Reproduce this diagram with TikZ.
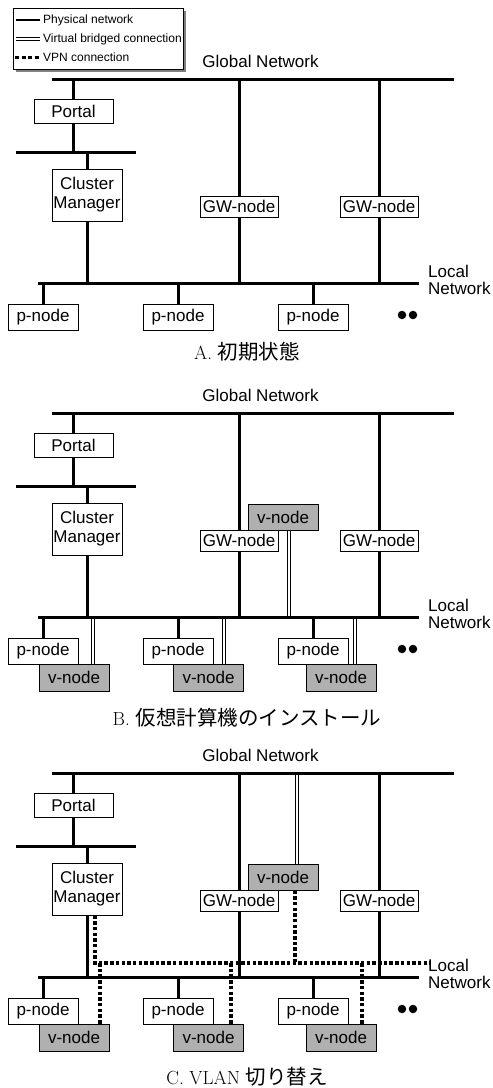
\documentclass[tikz,border=0pt]{standalone}
\usepackage{fontspec}
\newfontfamily\labfont{Liberation Sans}
\newfontfamily\jpfont{Noto Sans CJK JP}
\definecolor{vgray}{RGB}{176,176,176}
\definecolor{shadowgray}{RGB}{128,128,128}
\pgfdeclarelayer{bbg}
\pgfdeclarelayer{bg}
\pgfsetlayers{bbg,bg,main}
\newcommand\jp[1]{{\jpfont\fontsize{20.5}{22}\selectfont #1}}
\tikzset{
  net/.style={line width=3pt},
  lbl/.style={font=\labfont\fontsize{17}{17}\selectfont, inner sep=0pt},
  nbox/.style={draw, line width=0.8pt, fill=white, inner sep=0pt,
    font=\labfont\fontsize{17}{19}\selectfont, align=center},
  pbox/.style={nbox, minimum width=70pt, minimum height=26pt},
  vbox/.style={nbox, fill=vgray, minimum width=70pt, minimum height=27pt},
  bridge/.style={double, line width=0.9pt, double distance=2.4pt},
  vpn/.style={line width=3.2pt, dash pattern=on 3.5pt off 2.2pt},
  captext/.style={font=\fontsize{19}{22}\selectfont, inner sep=0pt},
  bigdot/.style={circle, fill=black, inner sep=0pt, minimum size=8.5pt},
  legtext/.style={font=\labfont\fontsize{12}{12}\selectfont, inner sep=0pt, anchor=west},
}
\newcommand\panelbase[2]{%
  \node[lbl] (gnet) at (260.5,61) {Global Network};
  \coordinate (gl) at (52,79);
  \coordinate (gr) at (454,79);
  \coordinate (bl) at (16,152);
  \coordinate (br) at (136,152);
  \coordinate (ll) at (38,283);
  \coordinate (lr) at (419,283);
  \node[nbox, minimum width=79pt, minimum height=24pt] (portal) at (73.5,111) {Portal};
  \node[nbox, minimum width=70pt, minimum height=52pt] (cm) at (87,195) {Cluster\\Manager};
  \node[nbox, minimum width=78pt, minimum height=21pt] (gw1) at (239,206.5) {GW-node};
  \node[nbox, minimum width=78pt, minimum height=21pt] (gw2) at (379,206.5) {GW-node};
  \node[pbox] (p1) at (43,317) {p-node};
  \node[pbox] (p2) at (178,317) {p-node};
  \node[pbox] (p3) at (313,317) {p-node};
  \node[lbl, anchor=north west, align=left] (lnet) at (428,264.5) {Local\\Network};
  \node[bigdot] (dA) at (402,315) {};
  \node[bigdot] (dB) at (413,315) {};
  \node[captext] (caption) at (247,#1) {#2};
  \begin{pgfonlayer}{bg}
    \draw[net] (gl) -- (gr);
    \draw[net] (bl) -- (br);
    \draw[net] (ll) -- (lr);
    \draw[net] (portal |- gl) -- (portal |- bl);
    \draw[net] (cm |- bl) -- (cm |- ll);
    \draw[net] (gw1 |- gl) -- (gw1 |- ll);
    \draw[net] (gw2 |- gl) -- (gw2 |- ll);
    \draw[net] (p1.north) -- (p1 |- ll);
    \draw[net] (p2.north) -- (p2 |- ll);
    \draw[net] (p3.north) -- (p3 |- ll);
  \end{pgfonlayer}
}
\newcommand\vnodes{%
  \node[vbox] (v1) at (74,343.5) {v-node};
  \node[vbox] (v2) at (208.5,343.5) {v-node};
  \node[vbox] (v3) at (341,343.5) {v-node};
  \node[vbox, minimum height=26pt] (vt) at (283,183) {v-node};
}
\begin{document}
\begin{tikzpicture}[x=1pt,y=-1pt]
\useasboundingbox (0,0) rectangle (493,1088);
% legend
\node[fill=shadowgray, minimum width=170pt, minimum height=61pt, inner sep=0pt, anchor=north west] (legshadow) at (16,11) {};
\node[draw, line width=0.8pt, fill=white, minimum width=170pt, minimum height=61pt, inner sep=0pt, anchor=north west] (legend) at (13,8) {};
\coordinate (la1) at (16,20); \coordinate (lb1) at (40,20);
\coordinate (la2) at (16,39); \coordinate (lb2) at (40,39);
\coordinate (la3) at (15,57); \coordinate (lb3) at (40,57);
\draw[line width=2.6pt] (la1) -- (lb1);
\draw[double, line width=0.9pt, double distance=2pt] (la2) -- (lb2);
\draw[line width=3pt, dash pattern=on 4pt off 2.5pt] (la3) -- (lb3);
\node[legtext] (lt1) at (43,20) {Physical network};
\node[legtext] (lt2) at (43,39) {Virtual bridged connection};
\node[legtext] (lt3) at (43,57) {VPN connection};

% Panel A
\begin{scope}[name prefix=a-]
  \panelbase{352}{A.\ \jp{初期状態}}
\end{scope}

% Panel B
\begin{scope}[shift={(0,334)}, name prefix=b-]
  \panelbase{384}{B.\ \jp{仮想計算機のインストール}}
  \vnodes
  \begin{pgfonlayer}{bbg}
    \draw[bridge] ([xshift=19pt]v1.north) -- ([xshift=19pt]v1.north |- ll);
    \draw[bridge] ([xshift=15.5pt]v2.north) -- ([xshift=15.5pt]v2.north |- ll);
    \draw[bridge] ([xshift=14pt]v3.north) -- ([xshift=14pt]v3.north |- ll);
    \draw[bridge] ([xshift=6pt]vt.south) -- ([xshift=6pt]vt.south |- ll);
  \end{pgfonlayer}
\end{scope}

% Panel C
\begin{scope}[shift={(0,694)}, name prefix=c-]
  \panelbase{383}{C.\ VLAN\ \jp{切り替え}}
  \vnodes
  \begin{pgfonlayer}{bbg}
    \draw[bridge] ([xshift=14pt]vt.north) -- ([xshift=14pt]vt.north |- gl);
  \end{pgfonlayer}
  \coordinate (hl) at (95,269);
  \coordinate (hr) at (430,269);
  \draw[vpn] (cm.south -| hl) -- (hl) -- (hr);
  \draw[vpn] ([xshift=12pt]vt.south) -- ([xshift=12pt]vt.south |- hl);
  \draw[vpn] ([xshift=26pt]v1.north |- hl) -- ([xshift=26pt]v1.north);
  \draw[vpn] ([xshift=22.5pt]v2.north |- hl) -- ([xshift=22.5pt]v2.north);
  \draw[vpn] ([xshift=21pt]v3.north |- hl) -- ([xshift=21pt]v3.north);
\end{scope}
\end{tikzpicture}
\end{document}
